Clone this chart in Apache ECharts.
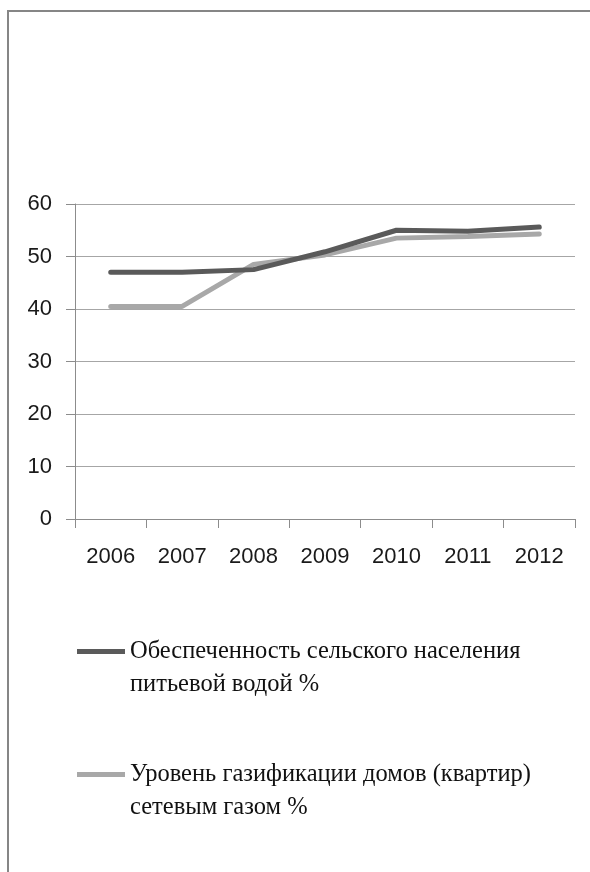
<!DOCTYPE html>
<html>
<head>
<meta charset="utf-8">
<script src="https://cdn.jsdelivr.net/npm/echarts@6/dist/echarts.min.js"></script>
<style>
html,body{margin:0;padding:0;background:#fff;overflow:hidden;width:590px;height:872px;}
#chart{position:absolute;left:0;top:0;width:590px;height:872px;}
#frame{position:absolute;left:7px;top:10px;width:581px;height:860px;border-left:2px solid #868686;border-top:2px solid #868686;pointer-events:none;}
</style>
</head>
<body>
<div id="chart"></div>
<div id="frame"></div>
<script>
const categories = ['2006','2007','2008','2009','2010','2011','2012'];
const waterSupply = [47.0, 47.0, 47.5, 50.9, 55.0, 54.8, 55.6];
const gasSupply = [40.5, 40.5, 48.5, 50.3, 53.5, 53.8, 54.3];
const seriesNames = ['Обеспеченность сельского населения питьевой водой %',
                     'Уровень газификации домов (квартир) сетевым газом %'];
const legendBreakWords = ['питьевой', 'сетевым'];
const yTicks = {min: 0, max: 60, interval: 10};

const axisFont = "'Liberation Sans','Arial',sans-serif";
const legendFont = "'Liberation Serif','DejaVu Serif',serif";

const chart = echarts.init(document.getElementById('chart'), null, {renderer:'canvas'});
function legendCfg(idx, top){
  const name = seriesNames[idx];
  const brk = legendBreakWords[idx];
  return {
    data:[name], left:77, top:top, orient:'vertical', padding:0,
    icon:'rect', itemWidth:48, itemHeight:5, itemGap:5,
    selectedMode:false,
    formatter:function(n){ return '\u00a0\n' + n.replace(' ' + brk, '\n' + brk); },
    textStyle:{fontFamily:legendFont, fontSize:24.5, color:'#111', lineHeight:33}
  };
}
chart.setOption({
  animation:false,
  grid:{left:75, right:15, top:204, bottom:353, containLabel:false},
  xAxis:{type:'category', data:categories, boundaryGap:true,
    axisLine:{lineStyle:{color:'#8c8c8c', width:1}},
    axisTick:{show:true, length:9, lineStyle:{color:'#8c8c8c'}},
    axisLabel:{fontFamily:axisFont, fontSize:22, color:'#1a1a1a', margin:27, interval:0}
  },
  yAxis:{type:'value', min:yTicks.min, max:yTicks.max, interval:yTicks.interval,
    axisLine:{show:true, lineStyle:{color:'#8c8c8c', width:1}},
    axisTick:{show:true, length:9, lineStyle:{color:'#8c8c8c'}},
    splitLine:{lineStyle:{color:'#a6a6a6', width:1}},
    axisLabel:{fontFamily:axisFont, fontSize:22, color:'#1a1a1a', margin:23}
  },
  legend:[legendCfg(0, 602), legendCfg(1, 725)],
  series:[
    {name:seriesNames[0], type:'line', data:waterSupply, symbol:'none', smooth:false,
      color:'#5a5a5a', lineStyle:{color:'#5a5a5a', width:5, cap:'round'}, z:3},
    {name:seriesNames[1], type:'line', data:gasSupply, symbol:'none', smooth:false,
      color:'#a8a8a8', lineStyle:{color:'#a8a8a8', width:5, cap:'round'}, z:2}
  ]
});
</script>
</body>
</html>
